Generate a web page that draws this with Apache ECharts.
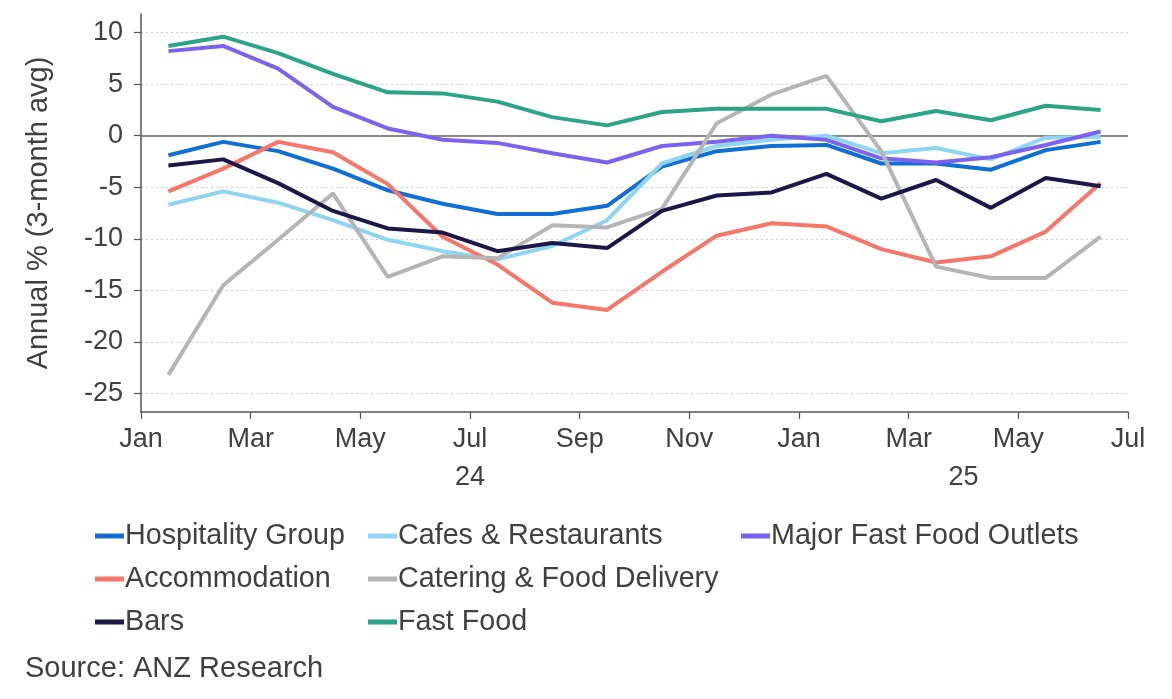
<!DOCTYPE html>
<html>
<head>
<meta charset="utf-8">
<script src="https://cdn.jsdelivr.net/npm/echarts@6/dist/echarts.min.js"></script>
<style>
html,body{margin:0;padding:0;background:#fff;}
#chart{width:1172px;height:699px;}
</style>
</head>
<body>
<div id="chart"></div>
<script>
// Monthly data, Jan 2024 .. Jun 2025 (plotted mid-month)
var months = ['Jan 24','Feb 24','Mar 24','Apr 24','May 24','Jun 24','Jul 24','Aug 24','Sep 24','Oct 24','Nov 24','Dec 24','Jan 25','Feb 25','Mar 25','Apr 25','May 25','Jun 25'];
var hospitality   = [-1.9, -0.6, -1.5, -3.2, -5.3, -6.6, -7.6, -7.6, -6.8, -3.0, -1.5, -1.0, -0.9, -2.7, -2.7, -3.3, -1.4, -0.6];
var cafes         = [-6.7, -5.4, -6.5, -8.2, -10.1, -11.2, -12.0, -10.7, -8.2, -2.7, -1.0, -0.4, 0.0, -1.7, -1.2, -2.3, -0.2, -0.1];
var majorFastFood = [8.2, 8.7, 6.5, 2.8, 0.7, -0.4, -0.7, -1.7, -2.6, -1.0, -0.6, 0.0, -0.4, -2.2, -2.6, -2.1, -0.9, 0.4];
var accommodation = [-5.4, -3.2, -0.6, -1.6, -4.7, -9.8, -12.5, -16.2, -16.9, -13.2, -9.7, -8.5, -8.8, -11.0, -12.3, -11.7, -9.3, -4.6];
var catering      = [-23.2, -14.5, -10.1, -5.6, -13.7, -11.7, -11.9, -8.7, -8.9, -7.1, 1.2, 4.0, 5.8, -1.5, -12.7, -13.8, -13.8, -9.8];
var bars          = [-2.9, -2.3, -4.6, -7.3, -9.0, -9.4, -11.2, -10.4, -10.9, -7.3, -5.8, -5.5, -3.7, -6.1, -4.3, -7.0, -4.1, -4.9];
var fastFood      = [8.7, 9.6, 8.0, 6.0, 4.2, 4.1, 3.3, 1.8, 1.0, 2.3, 2.6, 2.6, 2.6, 1.4, 2.4, 1.5, 2.9, 2.5];

var xTickLabels = ['Jan','Mar','May','Jul','Sep','Nov','Jan','Mar','May','Jul'];
var yearLabels = {6: '24', 15: '25'};
var yTicks = [-25, -20, -15, -10, -5, 0, 5, 10];

var names = ['Hospitality Group','Cafes & Restaurants','Major Fast Food Outlets','Accommodation','Catering & Food Delivery','Bars','Fast Food'];
var colors = ['#0f6fd6','#8ed5f4','#7d62ee','#f6766a','#b5b5b5','#1b1748','#2ba488'];
var seriesData = [hospitality, cafes, majorFastFood, accommodation, catering, bars, fastFood];

var textColor = '#404040';
var font = 'Liberation Sans, Arial, sans-serif';

function toPoints(arr){
  return arr.map(function(v,i){ return [i + 0.5, v]; });
}

var series = seriesData.map(function(arr, k){
  var s = {
    name: names[k],
    type: 'line',
    data: toPoints(arr),
    symbol: 'none',
    smooth: false,
    lineStyle: {width: 4, color: colors[k]},
    itemStyle: {color: colors[k]},
    z: 3
  };
  if (k === 0) {
    s.markLine = {
      silent: true,
      symbol: 'none',
      label: {show: false},
      lineStyle: {color: '#666666', width: 1.5, type: 'solid'},
      data: [{yAxis: 0}],
      z: 2
    };
  }
  return s;
});

var legendText = {color: textColor, fontSize: 28.7, fontFamily: font, lineHeight: 30, padding: [0,0,0,-4]};

var chart = echarts.init(document.getElementById('chart'), null, {renderer: 'canvas'});
chart.setOption({
  animation: false,
  backgroundColor: '#ffffff',
  textStyle: {fontFamily: font},
  grid: {left: 141, right: 44, top: 14, bottom: 287, containLabel: false, outerBoundsMode: 'none'},
  xAxis: [{
    type: 'value',
    min: 0, max: 18, interval: 2,
    axisLine: {show: true, onZero: false, lineStyle: {color: '#555555', width: 1.5}},
    axisTick: {show: true, length: 7, lineStyle: {color: '#555555', width: 1.2}},
    splitLine: {show: false},
    axisLabel: {
      color: textColor, fontSize: 27, fontFamily: font, margin: 14,
      formatter: function(v){ return xTickLabels[Math.round(v/2)] || ''; }
    }
  }, {
    type: 'value',
    position: 'bottom',
    offset: 38,
    min: 0, max: 18, interval: 3,
    axisLine: {show: false},
    axisTick: {show: false},
    splitLine: {show: false},
    axisLabel: {
      color: textColor, fontSize: 27, fontFamily: font, margin: 14,
      formatter: function(v){ return yearLabels[Math.round(v)] || ''; }
    }
  }],
  yAxis: {
    type: 'value',
    min: -26.8, max: 11.8,
    name: 'Annual % (3-month avg)',
    nameLocation: 'middle',
    nameGap: 88,
    nameRotate: 90,
    nameTextStyle: {color: textColor, fontSize: 29, fontFamily: font},
    axisLine: {show: true, lineStyle: {color: '#555555', width: 1.5}},
    axisTick: {show: true, length: 7, customValues: yTicks, lineStyle: {color: '#555555', width: 1.2}},
    axisLabel: {show: true, customValues: yTicks, color: textColor, fontSize: 27, fontFamily: font, margin: 18},
    splitLine: {show: true, lineStyle: {color: '#c9cfd3', width: 1, type: [2, 3]}}
  },
  legend: [{
    orient: 'vertical', left: 90, top: 516, itemGap: 13,
    icon: 'rect', itemWidth: 29, itemHeight: 5,
    textStyle: legendText,
    data: ['Hospitality Group','Accommodation','Bars']
  }, {
    orient: 'vertical', left: 363, top: 516, itemGap: 13,
    icon: 'rect', itemWidth: 29, itemHeight: 5,
    textStyle: legendText,
    data: ['Cafes & Restaurants','Catering & Food Delivery','Fast Food']
  }, {
    orient: 'vertical', left: 736, top: 516, itemGap: 13,
    icon: 'rect', itemWidth: 29, itemHeight: 5,
    textStyle: legendText,
    data: ['Major Fast Food Outlets']
  }],
  graphic: [{
    type: 'text',
    left: 25, top: 654,
    style: {text: 'Source: ANZ Research', fill: textColor, fontSize: 29, fontFamily: font}
  }],
  series: series
});
</script>
</body>
</html>
